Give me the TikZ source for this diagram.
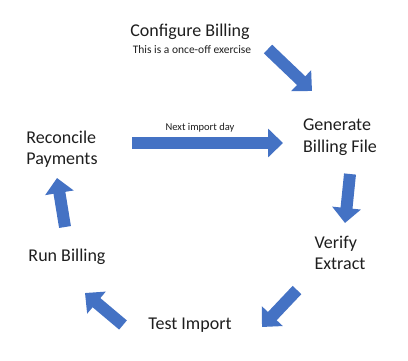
\documentclass[tikz,border=0pt]{standalone}
\usepackage{fontspec}
\setmainfont{Carlito}
\usetikzlibrary{arrows.meta, positioning}
\definecolor{cBlue}{RGB}{68,114,196}
\definecolor{cText}{RGB}{30,30,30}
\tikzset{
	stage/.style   ={inner sep=0pt, align=left, text=cText, font=\fontsize{18}{21.5}\selectfont},
	note/.style    ={inner sep=0pt, text=cText, font=\fontsize{11}{13}\selectfont},
	blockarrow/.style={line width=12pt, draw=cBlue, -{Triangle[length=15pt, width=28pt]}},
}
\begin{document}
\begin{tikzpicture}[x=1pt, y=-1pt]
	\useasboundingbox (0,0) rectangle (408,360);
	% stages of the cycle
	\node[stage] (cfg)  at (190,32)  {Configure Billing};
	\node[note, font=\fontsize{11.5}{13}\selectfont] (once) at (192,50) {This is a once-off exercise};
	\node[stage] (gen)  at (340,137) {Generate\\Billing File};
	\node[stage] (ver)  at (340,253) {Verify\\Extract};
	\node[stage] (test) at (190,325) {Test Import};
	\node[stage] (run)  at (67,257)  {Run Billing};
	\node[stage] (rec)  at (62,149)  {Reconcile\\Payments};
	% arrow ends
	\coordinate (a1s) at (268,49);  \coordinate (a1e) at (312,91);
	\coordinate (a2s) at (132,143); \coordinate (a2e) at (283,143);
	\coordinate (a3s) at (350,174); \coordinate (a3e) at (345,223);
	\coordinate (a4s) at (297,290); \coordinate (a4e) at (262,327);
	\coordinate (a5s) at (123,325); \coordinate (a5e) at (85,293);
	\coordinate (a6s) at (65,227);  \coordinate (a6e) at (57,178);
	\foreach \s/\e in {a1s/a1e, a2s/a2e, a3s/a3e, a4s/a4e, a5s/a5e, a6s/a6e}
	\draw[blockarrow] (\s) -- (\e);
	\node[note, font=\fontsize{10.5}{12}\selectfont] (nxt) at (200,128) {Next import day};
\end{tikzpicture}
\end{document}
